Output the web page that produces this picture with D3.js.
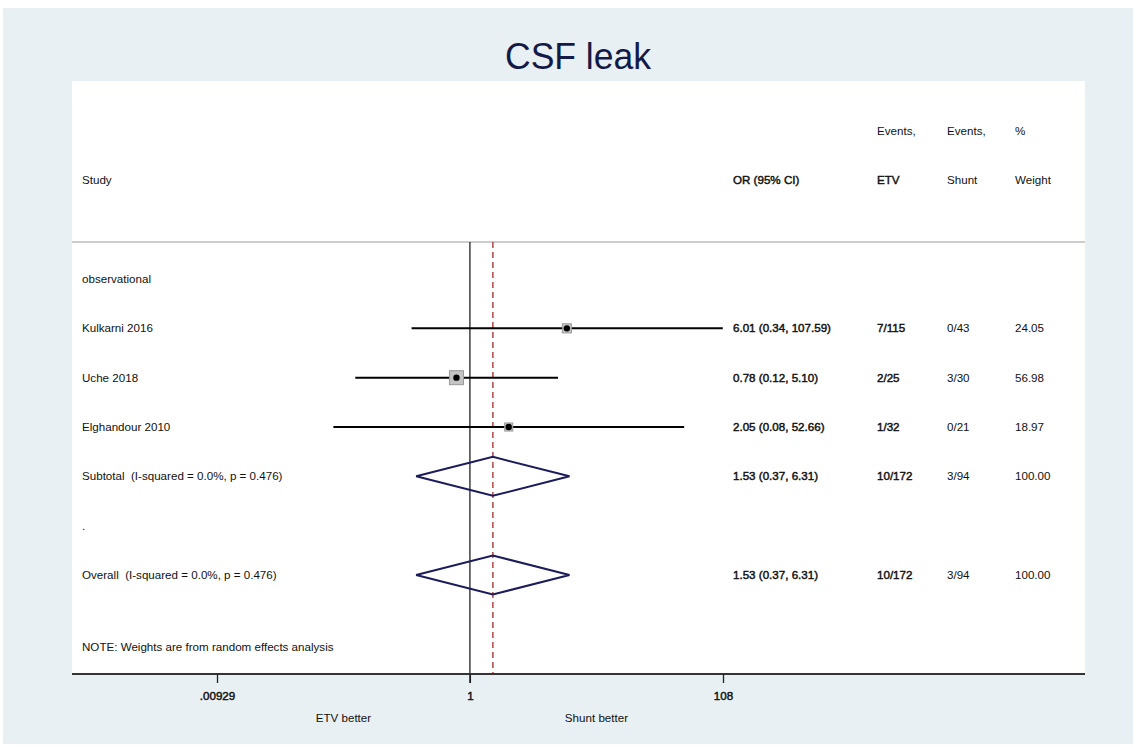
<!DOCTYPE html>
<html>
<head>
<meta charset="utf-8">
<script src="https://cdn.jsdelivr.net/npm/d3@7"></script>
<style>
  body { margin: 0; background: #fff; }
  text { font-family: "Liberation Sans", Arial, sans-serif; fill: #111; white-space: pre; }
</style>
</head>
<body>
<script>
//=======================================================================
// data
var studies     = ["Kulkarni 2016", "Uche 2018", "Elghandour 2010"];
var orVals      = [6.01, 0.78, 2.05];
var ciLow       = [0.34, 0.12, 0.08];
var ciHigh      = [107.59, 5.10, 52.66];
var etvEvents   = ["7/115", "2/25", "1/32"];
var shuntEvents = ["0/43", "3/30", "0/21"];
var weights     = [24.05, 56.98, 18.97];

var pooledLabels = ["Subtotal  (I-squared = 0.0%, p = 0.476)", "Overall  (I-squared = 0.0%, p = 0.476)"];
var pooledOR     = [1.53, 1.53];
var pooledLow    = [0.37, 0.37];
var pooledHigh   = [6.31, 6.31];
var pooledEtv    = ["10/172", "10/172"];
var pooledShunt  = ["3/94", "3/94"];
var pooledWeight = [100.00, 100.00];

var tickVals   = [0.00929, 1, 108];
var tickLabels = [".00929", "1", "108"];
//=======================================================================

var W = 1136, H = 747;
var svg = d3.select("body").append("svg").attr("width", W).attr("height", H);

// background panels
svg.append("rect").attr("x", 3).attr("y", 8).attr("width", 1130).attr("height", 736).attr("fill", "#e9f0f3");
svg.append("rect").attr("x", 72).attr("y", 81).attr("width", 1013).attr("height", 593).attr("fill", "#fff");

svg.append("text").attr("x", 578).attr("y", 69).attr("text-anchor", "middle")
   .attr("font-size", 37).attr("textLength", 146).attr("lengthAdjust", "spacingAndGlyphs")
   .style("fill", "#141a48").text("CSF leak");

var x = d3.scaleLog().domain([0.00929, 108]).range([217, 723]);
var rowY = d3.scaleLinear().domain([0, 6]).range([279, 575]);
var fs = 11.6;

var colX = { study: 82, or: 733, etv: 877, shunt: 947, wt: 1015 };

// "bold" in the picture is only a little heavier: thin stroke instead of bold face
function txt(xx, yy, s, bold) {
	var t = svg.append("text").attr("x", xx).attr("y", yy).attr("dy", ".35em")
	          .attr("font-size", fs).text(s);
	if (bold) t.attr("stroke", "#111").attr("stroke-width", 0.45);
	return t;
}
function fmt(v) { return v.toFixed(2); }
function orText(o, l, h) { return fmt(o) + " (" + fmt(l) + ", " + fmt(h) + ")"; }

// header
txt(colX.study, 180, "Study");
txt(colX.or, 180, "OR (95% CI)", true);
txt(colX.etv, 131, "Events,");
txt(colX.etv, 180, "ETV", true);
txt(colX.shunt, 131, "Events,");
txt(colX.shunt, 180, "Shunt");
txt(colX.wt, 131, "%");
txt(colX.wt, 180, "Weight");

svg.append("line").attr("x1", 72).attr("x2", 1085).attr("y1", 242).attr("y2", 242)
   .attr("stroke", "#999").attr("stroke-width", 1.2);

// null line and pooled estimate line
svg.append("line").attr("x1", x(1)).attr("x2", x(1)).attr("y1", 242).attr("y2", 683)
   .attr("stroke", "#222").attr("stroke-width", 1.3);
svg.append("line").attr("x1", x(pooledOR[1])).attr("x2", x(pooledOR[1])).attr("y1", 242).attr("y2", 674)
   .attr("stroke", "#a52a2a").attr("stroke-width", 1.3).attr("stroke-dasharray", "6,4");

txt(colX.study, rowY(0), "observational");

// study rows
//----------------------------------------------------------------------
var g = svg.selectAll("g.study").data(studies).enter().append("g").attr("class", "study");
var maxW = d3.max(weights);
var boxSize = d3.scaleSqrt().domain([0, maxW]).range([0, 14]);

g.append("line")
	.attr("x1", function(d, i){ return x(ciLow[i]); })
	.attr("x2", function(d, i){ return x(ciHigh[i]); })
	.attr("y1", function(d, i){ return rowY(i + 1); })
	.attr("y2", function(d, i){ return rowY(i + 1); })
	.attr("stroke", "#000").attr("stroke-width", 2);
g.append("rect")
	.attr("x", function(d, i){ return x(orVals[i]) - boxSize(weights[i]) / 2; })
	.attr("y", function(d, i){ return rowY(i + 1) - boxSize(weights[i]) / 2; })
	.attr("width", function(d, i){ return boxSize(weights[i]); })
	.attr("height", function(d, i){ return boxSize(weights[i]); })
	.attr("fill", "#c4c4c4").attr("stroke", "#999").attr("stroke-width", 1);
g.append("circle")
	.attr("cx", function(d, i){ return x(orVals[i]); })
	.attr("cy", function(d, i){ return rowY(i + 1); })
	.attr("r", 3.2).attr("fill", "#000");

studies.forEach(function(s, i){
	var yy = rowY(i + 1);
	txt(colX.study, yy, s);
	txt(colX.or, yy, orText(orVals[i], ciLow[i], ciHigh[i]), true);
	txt(colX.etv, yy, etvEvents[i], true);
	txt(colX.shunt, yy, shuntEvents[i]);
	txt(colX.wt, yy, fmt(weights[i]));
});

// pooled rows (subtotal, overall)
//----------------------------------------------------------------------
var pooledRows = [4, 6];
pooledLabels.forEach(function(s, i){
	var yy = rowY(pooledRows[i]);
	var hh = 19.5;
	var pts = [[x(pooledLow[i]), yy], [x(pooledOR[i]), yy - hh], [x(pooledHigh[i]), yy], [x(pooledOR[i]), yy + hh]];
	svg.append("path").attr("d", d3.line()(pts) + "Z")
	   .attr("fill", "none").attr("stroke", "#1c1c5c").attr("stroke-width", 2);
	txt(colX.study, yy, s);
	txt(colX.or, yy, orText(pooledOR[i], pooledLow[i], pooledHigh[i]), true);
	txt(colX.etv, yy, pooledEtv[i], true);
	txt(colX.shunt, yy, pooledShunt[i]);
	txt(colX.wt, yy, fmt(pooledWeight[i]));
});
txt(colX.study, rowY(5), ".");

txt(colX.study, 647, "NOTE: Weights are from random effects analysis");

// axis
//----------------------------------------------------------------------
svg.append("line").attr("x1", 72).attr("x2", 1085).attr("y1", 674).attr("y2", 674)
   .attr("stroke", "#333").attr("stroke-width", 2);
var axis = d3.axisBottom(x).tickValues(tickVals).tickSize(9)
             .tickFormat(function(d, i){ return tickLabels[i]; });
var ax = svg.append("g").attr("transform", "translate(0,674)").call(axis);
ax.select(".domain").remove();
ax.selectAll(".tick line").attr("stroke", "#222").attr("stroke-width", 1.3);
ax.selectAll(".tick text").attr("y", 18).attr("font-size", fs)
  .attr("stroke", "#111").attr("stroke-width", 0.45)
  .style("font-family", "Liberation Sans, Arial, sans-serif").style("fill", "#111");

svg.append("text").attr("x", (x(tickVals[0]) + x(1)) / 2).attr("y", 718).attr("dy", ".35em")
   .attr("text-anchor", "middle").attr("font-size", fs).text("ETV better");
svg.append("text").attr("x", (x(1) + x(tickVals[2])) / 2).attr("y", 718).attr("dy", ".35em")
   .attr("text-anchor", "middle").attr("font-size", fs).text("Shunt better");
//======================================================================
</script>
</body>
</html>
